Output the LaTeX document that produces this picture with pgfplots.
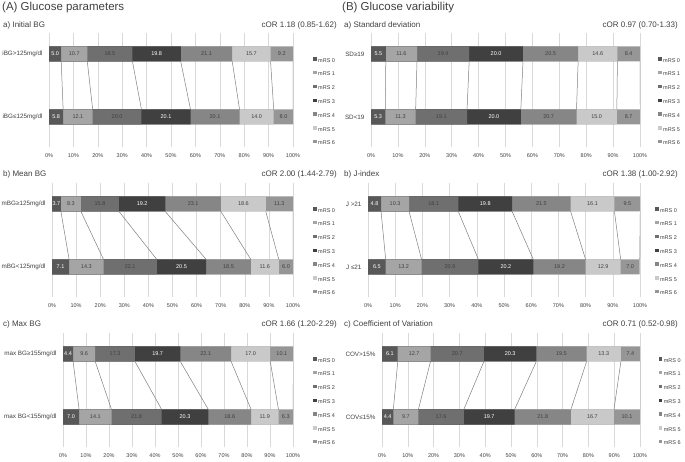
\documentclass[border=0pt]{standalone}
\usepackage{pgfplots}
\usepackage{pgfplotstable}
\pgfplotsset{compat=1.18}
\usepackage{fontspec}
\setmainfont{Liberation Sans}

\definecolor{r0}{HTML}{585858}
\definecolor{r1}{HTML}{A5A5A5}
\definecolor{r2}{HTML}{6F6F6F}
\definecolor{r3}{HTML}{404040}
\definecolor{r4}{HTML}{868686}
\definecolor{r5}{HTML}{C9C9C9}
\definecolor{r6}{HTML}{969696}
\definecolor{txt}{HTML}{404040}
\definecolor{grd}{HTML}{D9D9D9}
\definecolor{conn}{HTML}{7F7F7F}

% pos 1 = upper bar, pos 0 = lower bar; values in % of patients, mRS 0..6
\pgfplotstableread{
pos m0 m1 m2 m3 m4 m5 m6
1 5.0 10.7 18.5 19.8 21.1 15.7 9.2
0 5.8 12.1 20.0 20.1 20.1 14.0 8.0
}\iniBG
\pgfplotstableread{
pos m0 m1 m2 m3 m4 m5 m6
1 3.7 8.3 15.8 19.2 23.1 18.6 11.3
0 7.1 14.3 22.1 20.5 18.5 11.6 6.0
}\meanBG
\pgfplotstableread{
pos m0 m1 m2 m3 m4 m5 m6
1 4.4 9.6 17.3 19.7 22.1 17.0 10.1
0 7.0 14.1 21.8 20.3 18.6 11.9 6.3
}\maxBG
\pgfplotstableread{
pos m0 m1 m2 m3 m4 m5 m6
1 5.5 11.6 19.4 20.0 20.5 14.6 8.4
0 5.3 11.3 19.1 20.0 20.7 15.0 8.7
}\sdBG
\pgfplotstableread{
pos m0 m1 m2 m3 m4 m5 m6
1 4.8 10.3 18.1 19.8 21.5 16.1 9.5
0 6.5 13.2 20.9 20.2 19.2 12.9 7.0
}\jBG
\pgfplotstableread{
pos m0 m1 m2 m3 m4 m5 m6
1 6.1 12.7 20.7 20.3 19.5 13.3 7.4
0 4.4 9.7 17.6 19.7 21.8 16.7 10.1
}\covBG

% cumulative sums
\def\cA{\thisrow{m0}}
\def\cB{\cA+\thisrow{m1}}
\def\cC{\cB+\thisrow{m2}}
\def\cD{\cC+\thisrow{m3}}
\def\cE{\cD+\thisrow{m4}}
\def\cF{\cE+\thisrow{m5}}
\def\cG{\cF+\thisrow{m6}}

\pgfplotsset{
  grotta/.style={
    scale only axis, height=114pt,
    xmin=0, xmax=100, ymin=-0.476, ymax=1.333,
    axis line style={draw=none}, major tick length=0pt,
    xtick={0,10,...,100}, xmajorgrids,
    grid style={grd, line width=0.6pt},
    xticklabel={\pgfmathprintnumber[assume math mode=true]{\tick}\%},
    xticklabel style={font=\fontsize{5.5}{6}\selectfont, text=txt, yshift=-3.5pt},
    ytick={0,1},
    yticklabel style={font=\fontsize{6.3}{7}\selectfont, text=txt, xshift=-3pt},
    legend style={draw=none, fill=none, inner sep=0pt, anchor=north west,
      font=\fontsize{5.5}{6}\selectfont, text=txt, row sep=7.2pt,
      nodes={inner sep=0.6pt, text height=4pt, text depth=1pt}},
    legend cell align=left,
    legend image code/.code={\fill[##1] (0pt,0.1pt) rectangle (3.4pt,3.5pt);
      \path (4.4pt,0pt);},
    reverse legend,
  },
  seg/.style={xbar, bar width=15pt, bar shift=0pt, draw=none, fill=#1},
  link/.style={conn, line width=0.5pt, forget plot},
  lab/.style={forget plot, only marks, mark=none, nodes near coords,
    point meta=explicit symbolic,
    nodes near coords style={font=\fontsize{5.5}{6}\selectfont, text=#1,
      anchor=center, inner sep=0pt}},
}

\newcommand\bars[1]{%
  \addplot[seg=r6] table[x expr=\cG, y=pos]{#1}; \addlegendentry{mRS 6}
  \addplot[seg=r5] table[x expr=\cF, y=pos]{#1}; \addlegendentry{mRS 5}
  \addplot[seg=r4] table[x expr=\cE, y=pos]{#1}; \addlegendentry{mRS 4}
  \addplot[seg=r3] table[x expr=\cD, y=pos]{#1}; \addlegendentry{mRS 3}
  \addplot[seg=r2] table[x expr=\cC, y=pos]{#1}; \addlegendentry{mRS 2}
  \addplot[seg=r1] table[x expr=\cB, y=pos]{#1}; \addlegendentry{mRS 1}
  \addplot[seg=r0] table[x expr=\cA, y=pos]{#1}; \addlegendentry{mRS 0}
  \addplot[link] table[x expr=\cA, y expr=\thisrow{pos}*0.762+0.119]{#1};
  \addplot[link] table[x expr=\cB, y expr=\thisrow{pos}*0.762+0.119]{#1};
  \addplot[link] table[x expr=\cC, y expr=\thisrow{pos}*0.762+0.119]{#1};
  \addplot[link] table[x expr=\cD, y expr=\thisrow{pos}*0.762+0.119]{#1};
  \addplot[link] table[x expr=\cE, y expr=\thisrow{pos}*0.762+0.119]{#1};
  \addplot[link] table[x expr=\cF, y expr=\thisrow{pos}*0.762+0.119]{#1};
  \addplot[link] table[x expr=\cG, y expr=\thisrow{pos}*0.762+0.119]{#1};
  \addplot[lab=white] table[x expr=\cA-\thisrow{m0}/2, y=pos, meta=m0]{#1};
  \addplot[lab=txt] table[x expr=\cB-\thisrow{m1}/2, y=pos, meta=m1]{#1};
  \addplot[lab=txt] table[x expr=\cC-\thisrow{m2}/2, y=pos, meta=m2]{#1};
  \addplot[lab=white] table[x expr=\cD-\thisrow{m3}/2, y=pos, meta=m3]{#1};
  \addplot[lab=txt] table[x expr=\cE-\thisrow{m4}/2, y=pos, meta=m4]{#1};
  \addplot[lab=txt] table[x expr=\cF-\thisrow{m5}/2, y=pos, meta=m5]{#1};
  \addplot[lab=txt] table[x expr=\cG-\thisrow{m6}/2, y=pos, meta=m6]{#1};
}

% #1 left edge, #2 width, #3 bottom edge, #4 table, #5 upper label, #6 lower label, #7 legend x
\newcommand\panel[7]{%
  \begin{axis}[grotta, at={(#1pt,#3pt)}, anchor=south west, width=#2pt,
      yticklabels={{#6},{#5}}, legend style={at={(#7,0.79)}}]
    \bars{#4}
  \end{axis}}

\begin{document}
\begin{tikzpicture}
\path[use as bounding box] (0,0) rectangle (685pt,462pt);

\panel{49}{244}{315}{\iniBG}{iBG>125mg/dl}{iBG≤125mg/dl}{1.082}
\panel{52}{241}{165}{\meanBG}{mBG≥125mg/dl}{mBG<125mg/dl}{1.083}
\panel{63}{230}{15}{\maxBG}{max BG≥155mg/dl}{max BG<155mg/dl}{1.087}
\panel{371}{269}{315}{\sdBG}{SD≥19}{SD<19}{1.067}
\panel{368}{272}{165}{\jBG}{J >21}{J ≤21}{1.055}
\panel{382}{258}{15}{\covBG}{COV>15\%}{COV≤15\%}{1.072}

\begin{scope}[every node/.style={inner sep=0pt, text=txt}]
\node[anchor=west, font=\fontsize{11.5}{12}\selectfont] at (2pt,454pt) {(A) Glucose parameters};
\node[anchor=west, font=\fontsize{11.5}{12}\selectfont] at (342pt,454pt) {(B) Glucose variability};
\node[anchor=west, font=\fontsize{8}{9}\selectfont] at (3pt,437pt) {a) Initial BG};
\node[anchor=east, font=\fontsize{8}{9}\selectfont] at (337pt,437pt) {cOR 1.18 (0.85-1.62)};
\node[anchor=west, font=\fontsize{8}{9}\selectfont] at (3pt,288pt) {b) Mean BG};
\node[anchor=east, font=\fontsize{8}{9}\selectfont] at (337pt,288pt) {cOR 2.00 (1.44-2.79)};
\node[anchor=west, font=\fontsize{8}{9}\selectfont] at (3pt,138pt) {c) Max BG};
\node[anchor=east, font=\fontsize{8}{9}\selectfont] at (337pt,138pt) {cOR 1.66 (1.20-2.29)};
\node[anchor=west, font=\fontsize{8}{9}\selectfont] at (344pt,437pt) {a) Standard deviation};
\node[anchor=east, font=\fontsize{8}{9}\selectfont] at (678pt,437pt) {cOR 0.97 (0.70-1.33)};
\node[anchor=west, font=\fontsize{8}{9}\selectfont] at (344pt,288pt) {b) J-index};
\node[anchor=east, font=\fontsize{8}{9}\selectfont] at (678pt,288pt) {cOR 1.38 (1.00-2.92)};
\node[anchor=west, font=\fontsize{8}{9}\selectfont] at (344pt,138pt) {c) Coefficient of Variation};
\node[anchor=east, font=\fontsize{8}{9}\selectfont] at (678pt,138pt) {cOR 0.71 (0.52-0.98)};
\end{scope}
\end{tikzpicture}
\end{document}
